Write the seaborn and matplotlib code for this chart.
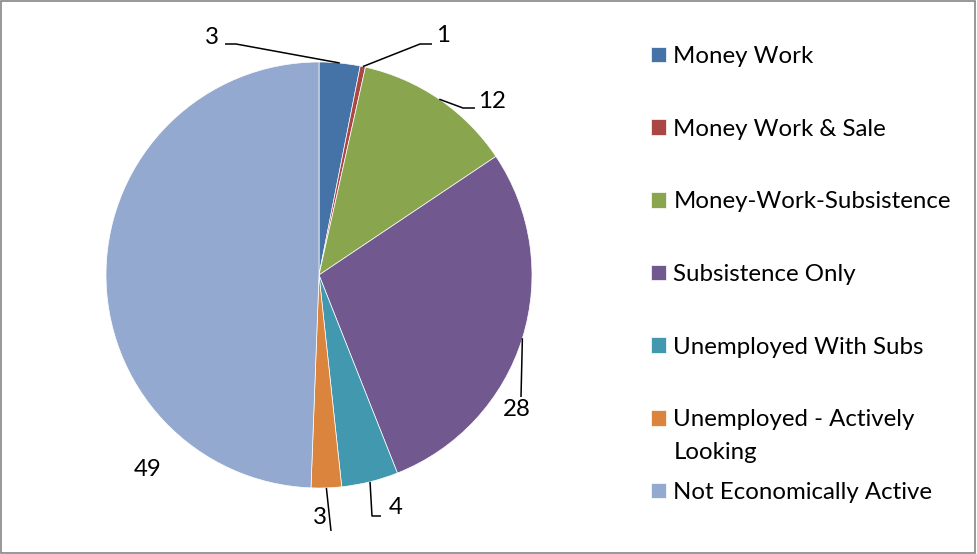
import numpy as np
import matplotlib
matplotlib.use("Agg")
import matplotlib.pyplot as plt
import seaborn as sns
from matplotlib.patches import Rectangle

categories = ["Money Work", "Money Work & Sale", "Money-Work-Subsistence",
              "Subsistence Only", "Unemployed With Subs",
              "Unemployed - Actively Looking", "Not Economically Active"]
shares = [3.1, 0.4, 12.1, 28.4, 4.3, 2.3, 49.4]
value_labels = ["3", "1", "12", "28", "4", "3", "49"]
colors = ["#4572A7", "#AA4643", "#89A54E", "#71588F", "#4198AF", "#DB843D", "#93A9CF"]

sns.set_theme(style="white")
plt.rcParams['font.family'] = ['Lato', 'DejaVu Sans']
plt.rcParams['text.color'] = 'black'
FS = 17.3

W, H = 977, 554
cx, cy, R = 319, 275, 213   # pie centre and radius in pixels
fig = plt.figure(figsize=(W / 100, H / 100), dpi=100)
fig.patch.set_facecolor('white')

x0, x1 = -1.45, 1.45
y0, y1 = -1.25, 1.27
ax = fig.add_axes([(cx + x0 * R) / W, (H - cy + y0 * R) / H,
                   (x1 - x0) * R / W, (y1 - y0) * R / H])

wedges, _ = ax.pie(shares, colors=colors, startangle=90, counterclock=False,
                   radius=1, wedgeprops=dict(edgecolor='white', linewidth=0.5))
ax.set_aspect('auto')
ax.set_xlim(x0, x1)
ax.set_ylim(y0, y1)
ax.axis('off')


def px(p):
    return ((p[0] - cx) / R, (cy - p[1]) / R)


# label layout: (text position, leader elbow points) in pixels
label_layout = [
    ((212, 37), [(236, 44), (225, 44)]),
    ((443, 35), [(420, 44), (432, 44)]),
    ((492, 101), [(463, 108), (475, 108)]),
    ((517, 410), [(521, 397)]),
    ((396, 507), [(372, 516), (381, 516)]),
    ((320, 518), [(331, 531)]),
    ((148, 469), None),
]

for w, lab, (tpos, elbow) in zip(wedges, value_labels, label_layout):
    if elbow is not None:
        mid = np.deg2rad((w.theta1 + w.theta2) / 2)
        pts = [(np.cos(mid), np.sin(mid))] + [px(p) for p in elbow]
        xs, ys = zip(*pts)
        ax.plot(xs, ys, color='black', lw=1.1, solid_capstyle='butt')
    tx, ty = px(tpos)
    ax.text(tx, ty, lab, ha='center', va='center', fontsize=FS, color='black')

legend_labels = [c if c != "Unemployed - Actively Looking" else "Unemployed - Actively"
                 for c in categories]
leg = ax.legend(wedges, legend_labels, loc='upper left',
                bbox_to_anchor=(651 / W, 1 - 46 / H), bbox_transform=fig.transFigure,
                frameon=False, fontsize=FS, handlelength=0.63, handleheight=0.63,
                handletextpad=0.3, labelspacing=2.15, borderpad=0, borderaxespad=0,
                labelcolor='black')
# second line of the wrapped legend entry, hung under its first line
ax.annotate("Looking", xy=(0, 0), xycoords=leg.get_texts()[5],
            xytext=(0, -20.5), textcoords='offset points', va='baseline', ha='left',
            fontsize=FS, color='black', zorder=10)

fig.add_artist(Rectangle((0.001, 0.002), 0.997, 0.996, transform=fig.transFigure,
                         fill=False, edgecolor='#868686', linewidth=1.2))

fig.savefig('out.png', dpi=100, facecolor='white')
